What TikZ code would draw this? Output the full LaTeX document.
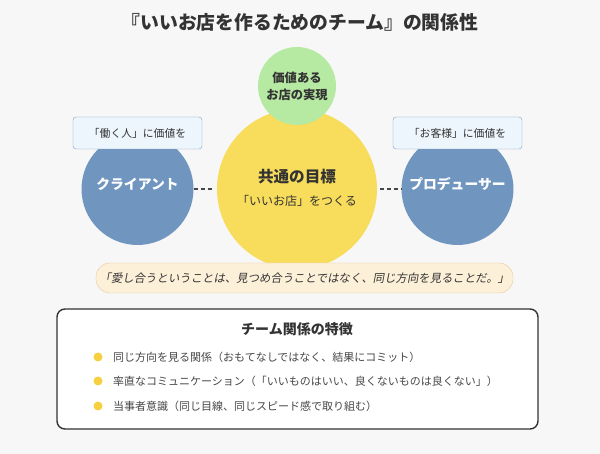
\documentclass[tikz,border=0pt]{standalone}
\usepackage{fontspec}
\setmainfont{Noto Sans CJK JP}
\newfontfamily\slantjp[FakeSlant=0.18]{Noto Sans CJK JP}

\definecolor{bgc}{HTML}{F7F7F7}
\definecolor{teamblue}{HTML}{7096BF}
\definecolor{goalyellow}{HTML}{F8DC5B}
\definecolor{valuegreen}{HTML}{B6E9A2}
\definecolor{tagfill}{HTML}{EEF6FD}
\definecolor{tagline}{HTML}{7F9CB9}
\definecolor{quotefill}{HTML}{FDF0D9}
\definecolor{quoteline}{HTML}{E6C89C}
\definecolor{dotyellow}{HTML}{F6D040}
\definecolor{txt}{HTML}{333333}

\begin{document}
\begin{tikzpicture}[
  x=1pt, y=-1pt,
  member/.style={circle, fill=teamblue, minimum size=112pt, inner sep=0pt},
  membername/.style={text=white, font=\fontsize{13.8}{16}\selectfont\bfseries},
  goal/.style={circle, fill=goalyellow, minimum size=160pt, inner sep=0pt, text=txt},
  value/.style={circle, fill=valuegreen, minimum size=78pt, inner sep=0pt, text=txt,
    align=center, font=\fontsize{12.3}{17}\selectfont\bfseries},
  tag/.style={draw=tagline, fill=tagfill, rounded corners=3pt, minimum width=129pt,
    minimum height=32pt, inner sep=0pt, text=txt, font=\fontsize{10.8}{13}\selectfont},
  link/.style={draw=txt!90, line width=1.3pt, dash pattern=on 4pt off 3pt},
  quotebox/.style={draw=quoteline, fill=quotefill, rounded corners=14pt, minimum width=417pt,
    minimum height=30pt, inner sep=0pt, text=txt, font=\fontsize{11.4}{13}\slantjp},
  dot/.style={circle, fill=dotyellow, minimum size=9pt, inner sep=0pt},
  item/.style={anchor=west, inner sep=0pt, text=txt!90, font=\fontsize{11}{13}\selectfont}
]

\useasboundingbox[fill=bgc] (0,0) rectangle (600,454);

% --- title ---
\node[text=txt, font=\fontsize{18.8}{22}\selectfont\bfseries] (title) at (300,22)
  {『いいお店を作るためのチーム』の関係性};

% --- circles ---
\node[goal] (goal) at (297,189) {};
\node[text=txt, font=\fontsize{15.6}{18}\selectfont\bfseries] (goalhead) at (297,177) {共通の目標};
\node[text=txt, font=\fontsize{12}{14}\selectfont] (goalsub) at (297,201) {「いいお店」をつくる};
\node[value] (value) at (297,86) {価値ある\\お店の実現};

\node[member] (client) at (137.5,189) {};
\node[member] (producer) at (457.5,189) {};
\node[membername] (clientname) at (137.5,184) {クライアント};
\node[membername] (producername) at (457.5,184) {プロデューサー};

% --- dashed links ---
\draw[link] (client.east) -- ([xshift=-3pt]goal.west);
\draw[link] ([xshift=3pt]goal.east) -- (producer.west);

% --- tags ---
\node[tag] (clienttag) at (137.5,133) {「働く人」に価値を};
\node[tag] (producertag) at (457.5,133) {「お客様」に価値を};

% --- quote ---
\node[quotebox] (quote) at (304.5,278)
  {「愛し合うということは、見つめ合うことではなく、同じ方向を見ることだ。」};

% --- features box ---
\node[draw=txt, line width=1.4pt, fill=white, rounded corners=8pt,
  minimum width=481pt, minimum height=120pt, inner sep=0pt] (features) at (297.5,369) {};
\node[text=txt, font=\fontsize{14}{16}\selectfont\bfseries] (feathead) at (297,329) {チーム関係の特徴};

\node[dot] (d1) at (98,357) {};
\node[dot] (d2) at (98,381) {};
\node[dot] (d3) at (98,406) {};
\node[item] (i1) at (113,357) {同じ方向を見る関係（おもてなしではなく、結果にコミット）};
\node[item] (i2) at (113,381) {率直なコミュニケーション（「いいものはいい、良くないものは良くない」）};
\node[item] (i3) at (113,406) {当事者意識（同じ目線、同じスピード感で取り組む）};

\end{tikzpicture}
\end{document}
